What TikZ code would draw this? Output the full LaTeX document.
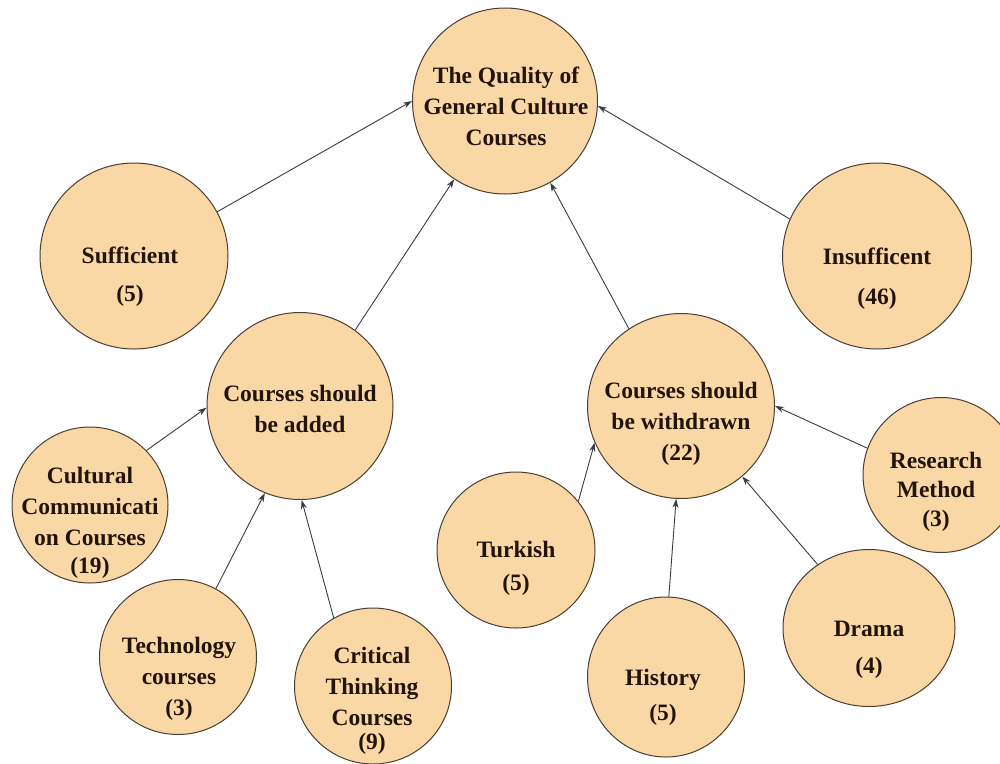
\documentclass[tikz,border=0pt]{standalone}
\usepackage{fontspec}
\setmainfont{Liberation Serif}
\usetikzlibrary{arrows.meta,shapes.geometric}
\definecolor{peach}{RGB}{250,216,166}
\definecolor{rim}{RGB}{75,62,50}
\definecolor{ink}{RGB}{35,20,10}
\definecolor{wire}{RGB}{55,60,72}
\begin{document}
\begin{tikzpicture}[x=1pt,y=-1pt,
  bubble/.style={ellipse, draw=rim, line width=1pt, fill=peach, inner sep=0pt},
  txt/.style={align=center, font=\fontsize{23.5}{31}\selectfont\bfseries, text=ink, inner sep=0pt},
  arr/.style={draw=wire, line width=0.9pt, -{Stealth[length=9pt,width=6pt]}}]
\useasboundingbox (0,0) rectangle (1000,763);
\fill[white] (0,0) rectangle (1000,763);

% circles
\node[bubble, minimum width=185pt, minimum height=186pt] (top) at (505,101) {};
\node[bubble, minimum width=188pt, minimum height=186pt] (suff) at (134,256) {};
\node[bubble, minimum width=189pt, minimum height=186pt] (insuff) at (877,256) {};
\node[bubble, minimum width=186pt, minimum height=187pt] (added) at (300,406) {};
\node[bubble, minimum width=187pt, minimum height=185pt] (withdrawn) at (681,406) {};
\node[bubble, minimum width=156pt, minimum height=156pt] (cultural) at (90,505) {};
\node[bubble, minimum width=157pt, minimum height=155pt] (tech) at (178,657) {};
\node[bubble, minimum width=157pt, minimum height=156pt] (critical) at (373,686) {};
\node[bubble, minimum width=158pt, minimum height=156pt] (turkish) at (516,550) {};
\node[bubble, minimum width=157pt, minimum height=160pt] (history) at (666,677) {};
\node[bubble, minimum width=172pt, minimum height=157pt] (drama) at (869,628) {};
\node[bubble, minimum width=156pt, minimum height=155pt] (research) at (941,475) {};

% texts
\node[txt] (top-t) at (506,106) {The Quality of\\General Culture\\Courses};
\node[txt] (suff-t) at (130,277) {Sufficient\\[7pt](5)};
\node[txt] (insuff-t) at (877,279) {Insufficent\\[9pt](46)};
\node[txt] (added-t) at (300,409) {Courses should\\be added};
\node[txt] (withdrawn-t) at (681,424) {Courses should\\be withdrawn\\(22)};
\node[txt] (cultural-t) at (90,523) {Cultural\\Communicati\\on Courses\\[-3pt](19)};
\node[txt] (tech-t) at (179,679) {Technology\\courses\\(3)};
\node[txt] (critical-t) at (372,701) {Critical\\Thinking\\Courses\\[-7pt](9)};
\node[txt] (turkish-t) at (516,568) {Turkish\\[2pt](5)};
\node[txt] (history-t) at (663,697) {History\\[4pt](5)};
\node[txt] (drama-t) at (869,650) {Drama\\[6pt](4)};
\node[txt] (research-t) at (936,492) {Research\\[-2pt]Method\\[-2pt](3)};

% connectors
\draw[arr] (suff.28.7) -- (top.180);
\draw[arr] (insuff.157.5) -- (top.357);
\draw[arr] (added.54) -- (top.237);
\draw[arr] (withdrawn.124) -- (top.299);
\draw[arr] (cultural.44.5) -- (added.181);
\draw[arr] (tech.61) -- (added.248.5);
\draw[arr] (critical.120) -- (added.271);
\draw[arr] (turkish.38) -- (withdrawn.203);
\draw[arr] (history.88.5) -- (withdrawn.267.5);
\draw[arr] (drama.129) -- (withdrawn.311);
\draw[arr] (research.160) -- (withdrawn.0);
\end{tikzpicture}
\end{document}
